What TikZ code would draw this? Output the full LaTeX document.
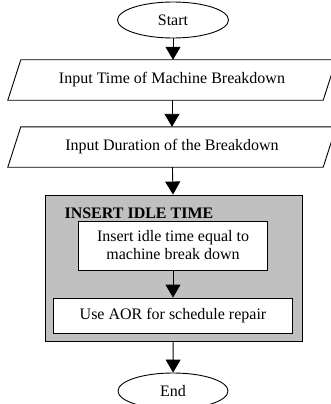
\documentclass[tikz,border=0pt]{standalone}
\usepackage{fontspec}
\setmainfont{Liberation Serif}
\usetikzlibrary{shapes.geometric, arrows.meta}
\definecolor{idlegray}{RGB}{192,192,192}

\begin{document}
\begin{tikzpicture}[x=1pt, y=-1pt,
  every node/.style={font=\fontsize{16}{18}\selectfont},
  terminal/.style={ellipse, draw, line width=0.9pt, inner sep=0pt, minimum width=111pt, minimum height=36pt},
  io/.style={rectangle, inner sep=0pt, minimum width=315pt, minimum height=40pt,
    append after command={\pgfextra{\draw[line width=0.9pt]
      ([xshift=-6.5pt]\tikzlastnode.south west) -- ([xshift=-6.5pt]\tikzlastnode.south east)
      -- ([xshift=6.5pt]\tikzlastnode.north east) -- ([xshift=6.5pt]\tikzlastnode.north west) -- cycle;}}},
  process/.style={rectangle, draw, fill=white, line width=0.9pt, inner sep=0pt, align=center},
  flow/.style={-{Triangle[length=13pt, width=15pt]}, line width=0.9pt}
]
\useasboundingbox (0,0) rectangle (331,404);

%Nodes
\node (start) at (173,20) [terminal] {Start};
\node (in1) at (172,80) [io] {Input Time of Machine Breakdown};
\node (in2) at (172,147) [io] {Input Duration of the Breakdown};

\node (idle) at (173.5,268) [rectangle, draw, fill=idlegray, line width=0.9pt, minimum width=257pt, minimum height=146pt] {};
\node (title) at (61,213) [anchor=west, font=\fontsize{16}{18}\selectfont\bfseries] {INSERT IDLE TIME};
\node (ins) at (173,245.5) [process, minimum width=189pt, minimum height=49pt] {Insert idle time equal to\\machine break down};
\node (aor) at (173,315.5) [process, minimum width=239pt, minimum height=35pt] {Use AOR for schedule repair};

\node (end) at (173,391) [terminal, minimum width=110pt] {End};

%Arrows
\draw[flow] (start) -- (start |- in1.north);
\draw[flow] (in1) -- (in2);
\draw[flow] (in2) -- (start |- idle.north);
\draw[flow] (ins) -- (aor);
\draw[flow] (idle) -- (end);

\end{tikzpicture}
\end{document}
